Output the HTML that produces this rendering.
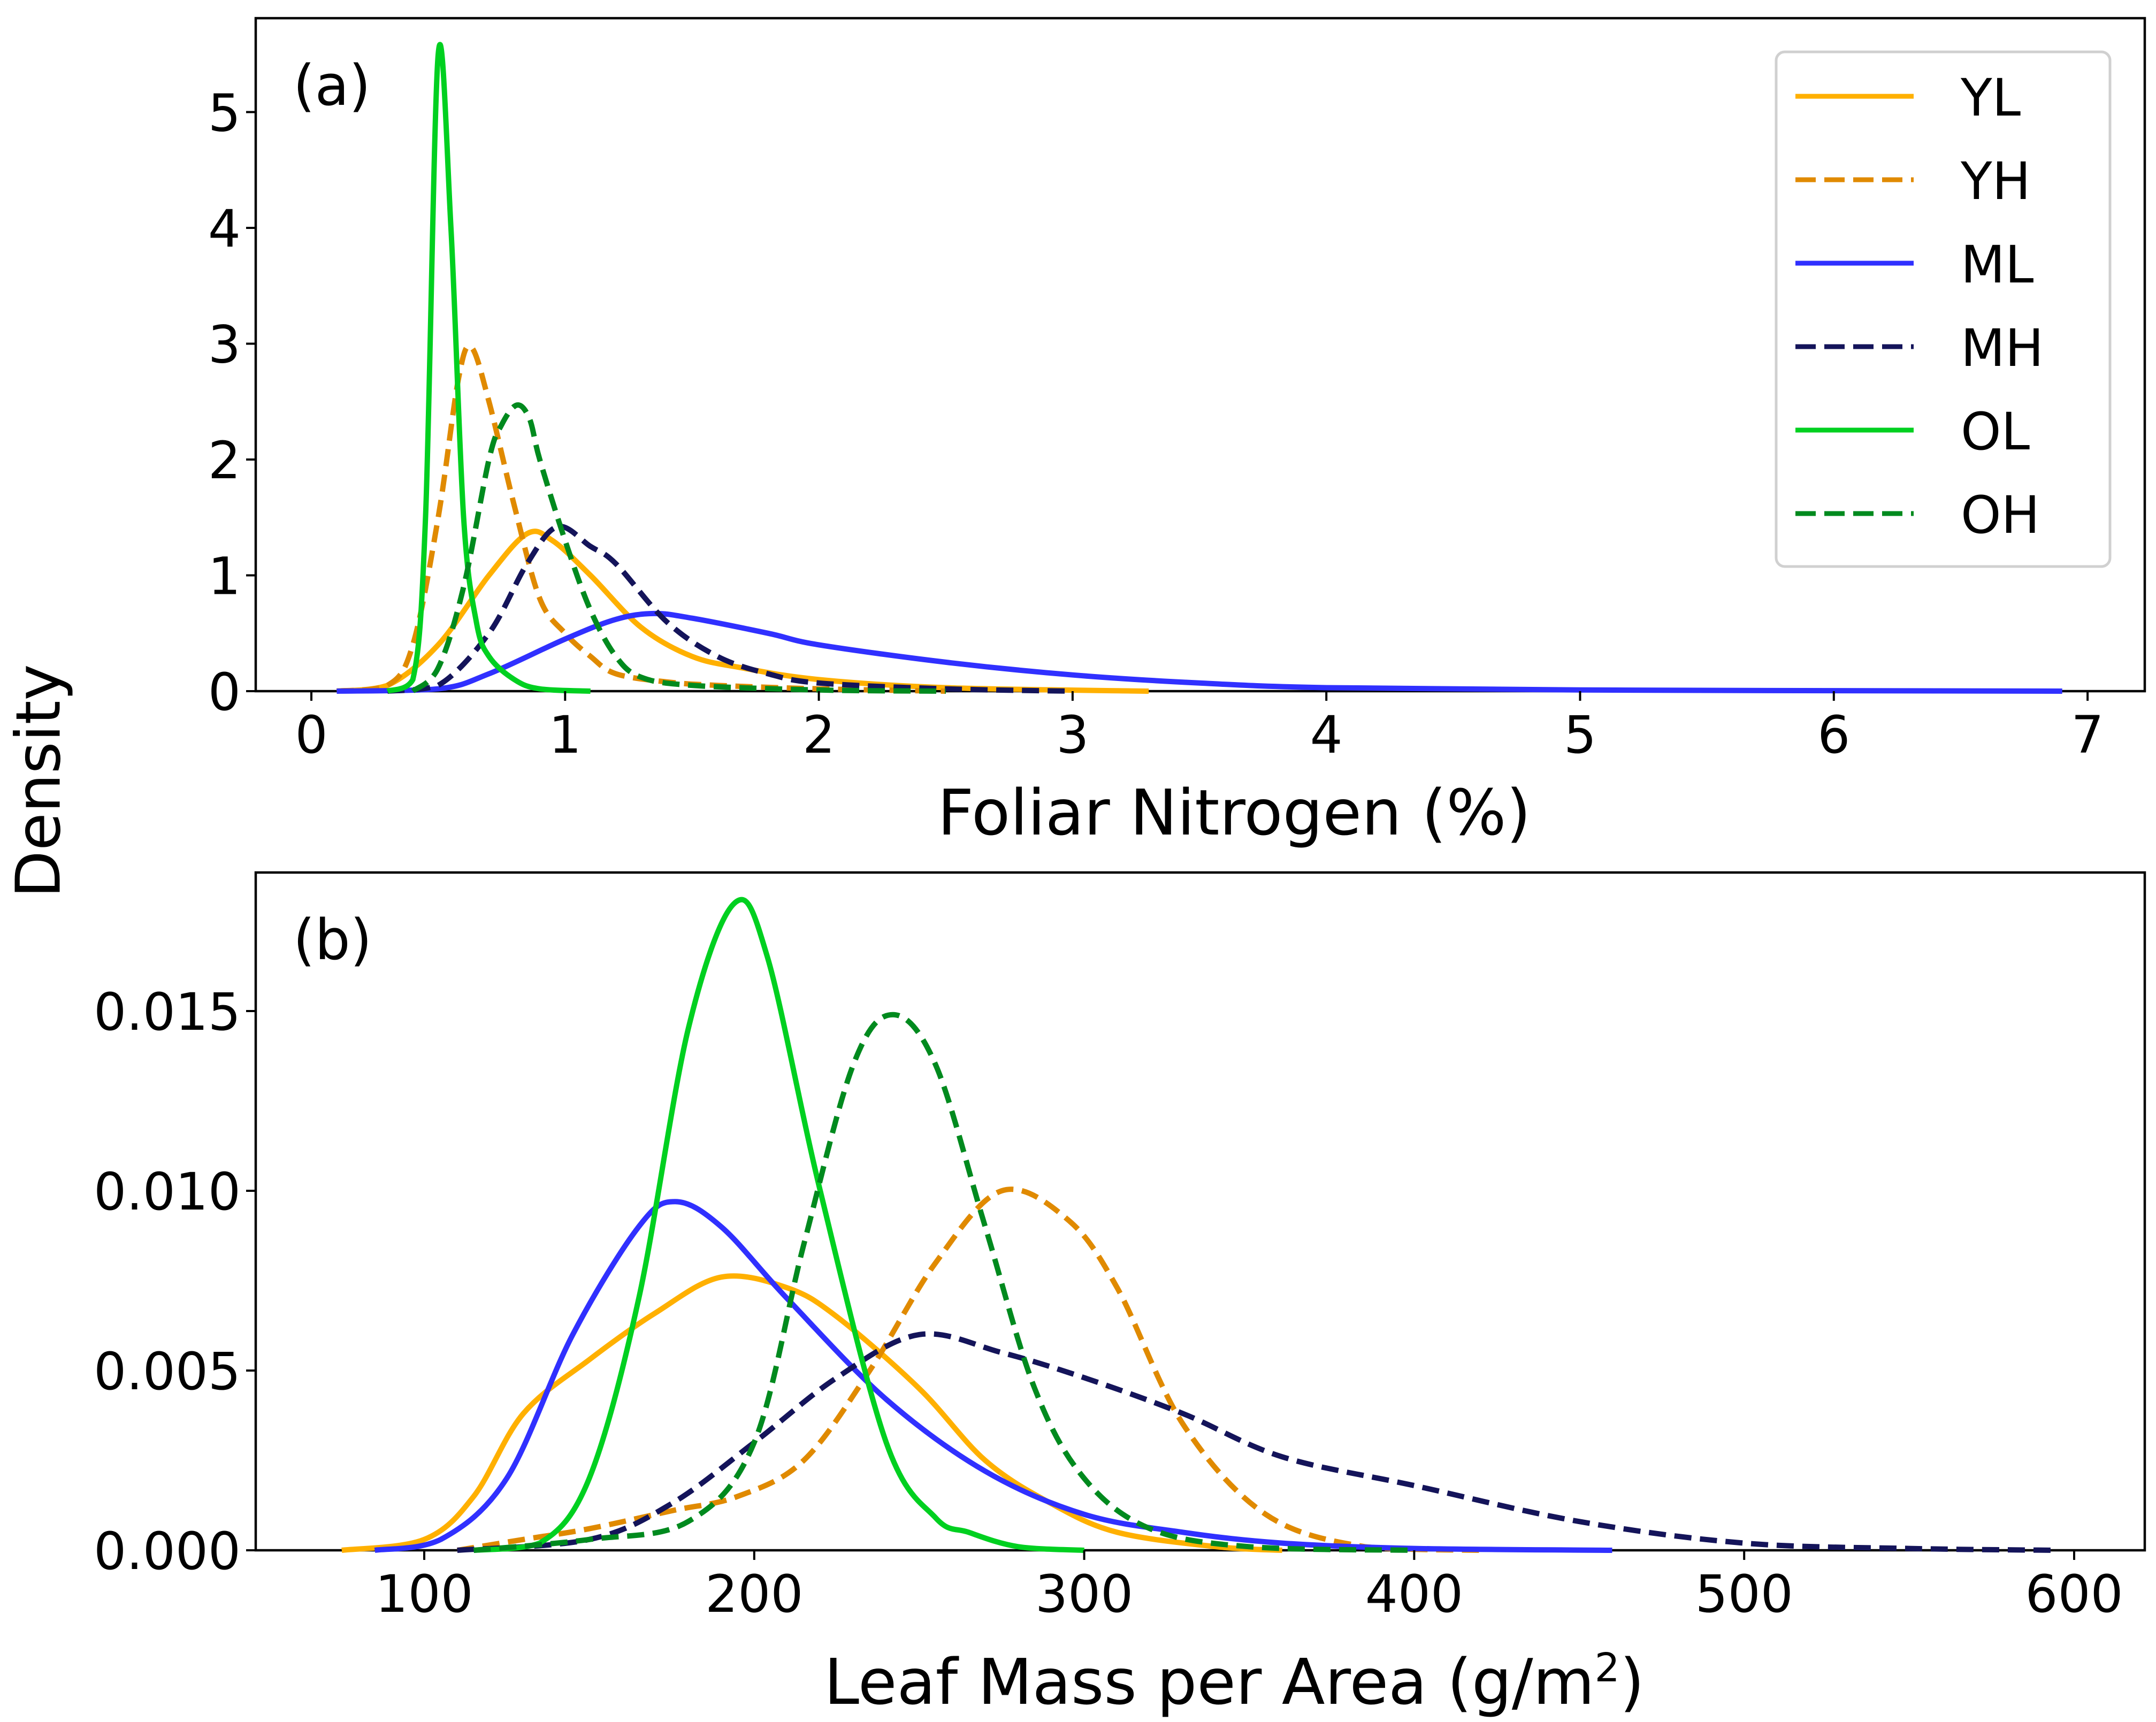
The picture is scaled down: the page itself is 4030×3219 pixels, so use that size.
<!DOCTYPE html>
<html><head><meta charset="utf-8"><style>
html,body{margin:0;padding:0;background:#fff;}
svg{display:block;font-family:"DejaVu Sans","Liberation Sans",sans-serif;}
</style></head><body>
<svg id="chart" width="4030" height="3219" viewBox="0 0 4030 3219" xmlns="http://www.w3.org/2000/svg">
<rect width="4030" height="3219" fill="#fff"/>
<text x="80" y="1460" font-size="115" text-anchor="middle" dominant-baseline="middle" transform="rotate(-90 80 1460)">Density</text>
<g id="pa"></g>
<g id="pb"></g>
</svg>
<script>
// Series names and styles
const seriesNames = ["YL","YH","ML","MH","OL","OH"];
const seriesColors = ["#FFB000","#E08A00","#3030FF","#14145A","#00D020","#008A1E"];
const seriesDashed = [false,true,false,true,false,true];

// Panel (a) Foliar Nitrogen (%) : x values and densities
const aYL_x=[0.1,0.3,0.5,0.7,0.85,0.95,1.1,1.3,1.5,1.7,2.0,2.5,3.3];
const aYL_y=[0,0.05,0.4,1.0,1.36,1.3,1.0,0.55,0.3,0.2,0.1,0.03,0];
const aYH_x=[0.1,0.3,0.4,0.5,0.58,0.63,0.7,0.8,0.9,1.0,1.1,1.2,1.4,1.6,2.0,2.5];
const aYH_y=[0,0.05,0.4,1.5,2.7,2.97,2.5,1.6,0.8,0.5,0.3,0.15,0.08,0.05,0.02,0];
const aML_x=[0.1,0.5,0.7,1.0,1.2,1.35,1.5,1.8,2.0,2.5,3.0,3.5,4.0,5.0,6.9];
const aML_y=[0,0.02,0.15,0.45,0.62,0.67,0.63,0.5,0.4,0.25,0.14,0.07,0.03,0.01,0];
const aMH_x=[0.3,0.5,0.7,0.85,0.97,1.1,1.2,1.4,1.6,1.8,2.0,2.5,3.0];
const aMH_y=[0,0.05,0.5,1.1,1.42,1.25,1.1,0.6,0.3,0.15,0.07,0.02,0];
const aOL_x=[0.3,0.4,0.45,0.5,0.55,0.6,0.65,0.7,0.8,0.9,1.1];
const aOL_y=[0,0.1,1.5,5.5,4.0,1.5,0.6,0.3,0.1,0.02,0];
const aOH_x=[0.4,0.5,0.6,0.7,0.75,0.81,0.86,0.9,1.0,1.1,1.2,1.3,1.5,2.0,2.5];
const aOH_y=[0,0.2,0.9,2.0,2.3,2.47,2.35,2.0,1.3,0.7,0.3,0.12,0.05,0.01,0];

// Panel (b) LMA : x values and densities
const bYL_x=[75,100,115,130,150,170,190,210,225,250,270,290,310,340,360];
const bYL_y=[0,0.0003,0.0015,0.0038,0.0053,0.0066,0.0076,0.0073,0.0065,0.0045,0.0025,0.0013,0.0005,0.0001,0];
const bYH_x=[110,130,150,175,195,215,235,255,275,295,310,330,355,385,420];
const bYH_y=[0,0.0003,0.0006,0.0011,0.0015,0.0025,0.005,0.008,0.01,0.0092,0.0073,0.0035,0.001,0.0001,0];
const bML_x=[85,105,125,145,165,176,190,210,240,270,300,330,360,400,460];
const bML_y=[0,0.0003,0.002,0.006,0.009,0.0097,0.009,0.007,0.0042,0.0022,0.001,0.0005,0.0002,0.00005,0];
const bMH_x=[110,150,175,200,225,250,275,300,330,360,400,450,500,550,595];
const bMH_y=[0,0.0003,0.0013,0.003,0.0048,0.006,0.0055,0.0048,0.0038,0.0026,0.0018,0.0008,0.0002,0.00005,0];
const bOL_x=[115,135,150,165,180,194,204,220,240,255,265,280,300];
const bOL_y=[0,0.0002,0.002,0.007,0.0145,0.018,0.0165,0.01,0.003,0.0009,0.0005,0.0001,0];
const bOH_x=[115,150,180,200,215,230,242,255,270,285,300,320,350,400];
const bOH_y=[0,0.0003,0.0008,0.003,0.0085,0.0135,0.0149,0.0135,0.009,0.0045,0.002,0.0006,0.0001,0];

// Tick labels
const aXTicks=[0,1,2,3,4,5,6,7];
const aYTicks=[0,1,2,3,4,5];
const bXTicks=[100,200,300,400,500,600];
const bYTicks=[0,0.005,0.010,0.015];
const bYTickLabels=["0.000","0.005","0.010","0.015"];

const NS="http://www.w3.org/2000/svg";
function mk(tag,attrs,parent){const e=document.createElementNS(NS,tag);for(const k in attrs)e.setAttribute(k,attrs[k]);parent.appendChild(e);return e;}
let BASE=0;
function smooth(pts){
  let d="M"+pts[0][0].toFixed(1)+","+pts[0][1].toFixed(1);
  for(let i=0;i<pts.length-1;i++){
    const p0=pts[Math.max(0,i-1)],p1=pts[i],p2=pts[i+1],p3=pts[Math.min(pts.length-1,i+2)];
    const c1=[p1[0]+(p2[0]-p0[0])/6,p1[1]+(p2[1]-p0[1])/6];
    const c2=[p2[0]-(p3[0]-p1[0])/6,p2[1]-(p3[1]-p1[1])/6];
    let c1y=Math.min(c1[1],BASE),c2y=Math.min(c2[1],BASE);
    d+=" C"+c1[0].toFixed(1)+","+c1y.toFixed(1)+" "+c2[0].toFixed(1)+","+c2y.toFixed(1)+" "+p2[0].toFixed(1)+","+p2[1].toFixed(1);
  }
  return d;
}
function panel(g,box,sx,sy,xs,ys,xt,yt,ytl,xlabel,plabel,xlabelY){
  BASE=sy(0);
  mk("rect",{x:box.l,y:box.t,width:box.r-box.l,height:box.b-box.t,fill:"none",stroke:"#000","stroke-width":4.5},g);
  for(let i=0;i<xs.length;i++){
    const pts=xs[i].map((x,j)=>[sx(x),sy(ys[i][j])]);
    const p=mk("path",{d:smooth(pts),fill:"none",stroke:seriesColors[i],"stroke-width":10,"stroke-linejoin":"round"},g);
    if(seriesDashed[i])p.setAttribute("stroke-dasharray","32 16");
    
    
  }
  xt.forEach(v=>{
    const x=sx(v);
    const t=mk("line",{x1:x,x2:x,y1:box.b,y2:box.b+18,stroke:"#000","stroke-width":4},g);
    
    
    const l=mk("text",{x:x,y:box.b+115,"font-size":96,"text-anchor":"middle"},g);l.textContent=String(v);
    
    
  });
  yt.forEach((v,i)=>{
    const y=sy(v);
    const t=mk("line",{x1:box.l-18,x2:box.l,y1:y,y2:y,stroke:"#000","stroke-width":4},g);
    
    
    const l=mk("text",{x:box.l-28,y:y+35,"font-size":96,"text-anchor":"end"},g);l.textContent=ytl[i];
    
    
  });
  const xl=mk("text",{x:2307,y:xlabelY,"font-size":118,"text-anchor":"middle"},g);xl.innerHTML=xlabel;
  
  
  const pl=mk("text",{x:548,y:box.t+162,"font-size":104},g);pl.textContent=plabel;
  
  
}
// Panel a
const boxA={l:478,r:4009,t:34,b:1292};
const sxA=v=>582+v*474.3, syA=v=>1292-v*216.5;
panel(document.getElementById("pa"),boxA,sxA,syA,
  [aYL_x,aYH_x,aML_x,aMH_x,aOL_x,aOH_x],[aYL_y,aYH_y,aML_y,aMH_y,aOL_y,aOH_y],
  aXTicks,aYTicks,aYTicks.map(String),"Foliar Nitrogen (%)","(a)",1560);
// Panel b
const boxB={l:478,r:4009,t:1631,b:2898};
const sxB=v=>793+(v-100)*6.168, syB=v=>2898-v*67200;
panel(document.getElementById("pb"),boxB,sxB,syB,
  [bYL_x,bYH_x,bML_x,bMH_x,bOL_x,bOH_x],[bYL_y,bYH_y,bML_y,bMH_y,bOL_y,bOH_y],
  bXTicks,bYTicks,bYTickLabels,"Leaf Mass per Area (g/m<tspan dy='-42' font-size='74'>2</tspan><tspan dy='42'>)</tspan>","(b)",3185);
// Legend
const lg=mk("g",{},document.getElementById("chart"));


mk("rect",{x:3320,y:97,width:624,height:962,rx:16,fill:"#fff",stroke:"#d0d0d0","stroke-width":5},lg);
seriesNames.forEach((n,i)=>{
  const y=180+i*156;
  const ln=mk("line",{x1:3356,x2:3577,y1:y,y2:y,stroke:seriesColors[i],"stroke-width":9},lg);
  if(seriesDashed[i])ln.setAttribute("stroke-dasharray","38 16");
  
  
  const t=mk("text",{x:3665,y:y+36,"font-size":96},lg);t.textContent=n;
  
  
});
</script>
</body></html>
